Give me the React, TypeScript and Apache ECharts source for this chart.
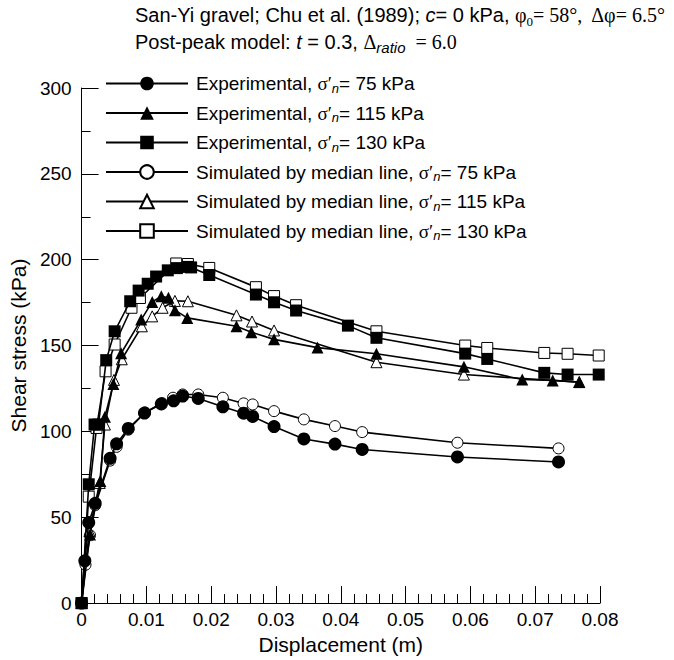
import React, { useEffect, useRef } from "react";
import * as echarts from "echarts";

const SANS = "'Liberation Sans', Arial, sans-serif";
const SERIF = "'Liberation Serif', 'Times New Roman', serif";

const xTicks = [0, 0.01, 0.02, 0.03, 0.04, 0.05, 0.06, 0.07, 0.08];
const yTicks = [0, 50, 100, 150, 200, 250, 300];

const seriesNames = [
  "Experimental, 75",
  "Experimental, 115",
  "Experimental, 130",
  "Simulated by median line, 75",
  "Simulated by median line, 115",
  "Simulated by median line, 130",
];

const exp75: [number, number][] = [
  [0, 0], [0.0005, 24.6], [0.0011, 46.9], [0.0021, 58.1], [0.0044, 84.3], [0.0054, 92.8],
  [0.0072, 101.7], [0.0097, 110.7], [0.0123, 116], [0.0142, 117.8], [0.0156, 120.6],
  [0.018, 119.2], [0.0218, 114.3], [0.025, 110.6], [0.0264, 108.7], [0.0297, 102.8],
  [0.0343, 95.6], [0.0391, 92.6], [0.0433, 89.5], [0.058, 85.1], [0.0736, 82.2],
];
const exp115: [number, number][] = [
  [0, 0], [0.0013, 40], [0.0029, 71.1], [0.0036, 108.5], [0.0049, 127.6], [0.0061, 145.5],
  [0.0092, 165.1], [0.0109, 175.4], [0.0123, 178.7], [0.0134, 177.8], [0.0144, 170.6],
  [0.0163, 166.1], [0.0239, 161.2], [0.0262, 157.8], [0.0297, 153.6], [0.0364, 148.8],
  [0.0455, 145.2], [0.059, 137.6], [0.068, 130.2], [0.0727, 129.7], [0.0768, 128.7],
];
const exp130: [number, number][] = [
  [0, 0], [0.0011, 69.2], [0.002, 104], [0.0026, 104], [0.0038, 141.5], [0.0051, 158.3],
  [0.0075, 175.8], [0.0088, 182], [0.0102, 186], [0.0115, 190.2], [0.0133, 193.8],
  [0.0147, 195.1], [0.0164, 195.8], [0.0169, 195.5], [0.0197, 191.1], [0.0269, 179.7],
  [0.0297, 175.2], [0.0331, 170.4], [0.0411, 161.6], [0.0455, 154.5], [0.0592, 145.3],
  [0.0626, 142.2], [0.0714, 134.1], [0.075, 133.1], [0.0798, 133.1],
];
const sim75: [number, number][] = [
  [0, 0], [0.0006, 22.3], [0.0013, 39.5], [0.0021, 57], [0.0044, 83], [0.0054, 91],
  [0.0072, 101], [0.0098, 111], [0.0124, 116.5], [0.0141, 119.6], [0.0156, 121.5],
  [0.018, 121.5], [0.0218, 119.6], [0.025, 116.3], [0.0264, 115.7], [0.0297, 111.8],
  [0.0343, 107], [0.0391, 103.1], [0.0433, 99.6], [0.058, 93.4], [0.0736, 90.1],
];
const sim115: [number, number][] = [
  [0, 0], [0.0012, 42], [0.0028, 70], [0.0036, 104], [0.005, 130], [0.0062, 142],
  [0.0093, 161.2], [0.0109, 167], [0.0125, 172], [0.0144, 176], [0.0164, 175.8],
  [0.0239, 167.6], [0.0263, 164], [0.0297, 158.8], [0.0455, 140.3], [0.059, 133.1],
  [0.0768, 128.7],
];
const sim130: [number, number][] = [
  [0, 0], [0.0011, 62], [0.0023, 102], [0.0037, 135], [0.0051, 150.6], [0.0077, 172],
  [0.009, 177.7], [0.0146, 197.8], [0.0164, 197.5], [0.0197, 195.2], [0.0269, 184],
  [0.0297, 178.8], [0.0331, 173.5], [0.0455, 158.3], [0.0592, 150], [0.0626, 148.6],
  [0.0714, 145.7], [0.075, 145.2], [0.0798, 144.2],
];

const seriesData = [exp75, exp115, exp130, sim75, sim115, sim130];
const symbols = ["circle", "triangle", "rect", "circle", "triangle", "rect"];
const filled = [true, true, true, false, false, false];
const symbolSizes = [13, 12, 12, 11, 11, 11];

export default function App() {
  const ref = useRef<HTMLDivElement>(null);
  useEffect(() => {
    if (!ref.current) return;
    const chart = echarts.init(ref.current, null, { renderer: "svg" });

    const legendRich = {
      a: { fontFamily: SANS, fontSize: 19, color: "#000", lineHeight: 22 },
      s: { fontFamily: SERIF, fontSize: 19, color: "#000", lineHeight: 22 },
      n: { fontFamily: SANS, fontSize: 13, fontStyle: "italic", color: "#000", lineHeight: 13, verticalAlign: "bottom" },
    };

    const titleRich = {
      a: { fontFamily: SANS, fontSize: 20, color: "#000", lineHeight: 26 },
      i: { fontFamily: SANS, fontSize: 20, fontStyle: "italic", color: "#000", lineHeight: 26 },
      s: { fontFamily: SERIF, fontSize: 20, color: "#000", lineHeight: 26 },
      ss: { fontFamily: SERIF, fontSize: 13, color: "#000", lineHeight: 13, verticalAlign: "bottom" },
      si: { fontFamily: SANS, fontSize: 15, fontStyle: "italic", color: "#000", lineHeight: 15, verticalAlign: "bottom" },
    };

    const option: any = {
      animation: false,
      backgroundColor: "#fff",
      grid: { left: 80, right: 74, top: 88, bottom: 56, containLabel: false },
      graphic: [
        {
          type: "text",
          left: 135,
          top: 5,
          style: {
            text: "{a|San-Yi gravel; Chu et al. (1989); }{i|c}{a|= 0 kPa, }{s|φ}{ss|0}{s|= 58°,  Δφ= 6.5°}",
            rich: titleRich,
          },
        },
        {
          type: "text",
          left: 135,
          top: 32,
          style: {
            text: "{a|Post-peak model: }{i|t}{a| = 0.3, }{s|Δ}{si|ratio}{s|  = 6.0}",
            rich: titleRich,
          },
        },
      ],
      legend: {
        orient: "vertical",
        left: 105,
        top: 74,
        padding: 0,
        itemWidth: 82,
        itemHeight: 17,
        itemGap: 9,
        data: seriesNames,
        formatter: (name: string) => {
          const idx = name.lastIndexOf(", ");
          const head = name.slice(0, idx + 2);
          const val = name.slice(idx + 2);
          return `{a|${head}}{s|σ′}{n|n}{a|= ${val} kPa}`;
        },
        textStyle: { rich: legendRich, padding: [0, 0, 0, 3] },
      },
      xAxis: {
        type: "value",
        min: 0,
        max: 0.08,
        interval: 0.01,
        name: "Displacement (m)",
        nameLocation: "middle",
        nameGap: 28,
        nameTextStyle: { fontFamily: SANS, fontSize: 21, color: "#000" },
        axisLine: { show: true, onZero: false, lineStyle: { color: "#000", width: 1 } },
        axisTick: { show: true, inside: true, length: 17, lineStyle: { color: "#000", width: 1 } },
        minorTick: { show: true, splitNumber: 5, length: 9, lineStyle: { color: "#000", width: 1 } },
        splitLine: { show: false },
        axisLabel: {
          margin: 7,
          fontFamily: SANS,
          fontSize: 19,
          color: "#000",
          customValues: xTicks,
          formatter: (v: number) => (v === 0 ? "0" : v.toFixed(2)),
        },
      },
      yAxis: {
        type: "value",
        min: 0,
        max: 300,
        interval: 50,
        name: "Shear stress (kPa)",
        nameLocation: "middle",
        nameGap: 41,
        nameTextStyle: { fontFamily: SANS, fontSize: 21, color: "#000" },
        axisLine: { show: true, onZero: false, lineStyle: { color: "#000", width: 1 } },
        axisTick: { show: true, inside: true, length: 17, lineStyle: { color: "#000", width: 1 } },
        minorTick: { show: true, splitNumber: 2, length: 9, lineStyle: { color: "#000", width: 1 } },
        splitLine: { show: false },
        axisLabel: {
          margin: 10,
          fontFamily: SANS,
          fontSize: 19,
          color: "#000",
          formatter: (v: number) => (yTicks.includes(v) ? String(v) : ""),
        },
      },
      series: seriesNames.map((name, i) => ({
        name,
        type: "line",
        data: seriesData[i],
        symbol: symbols[i],
        symbolSize: symbolSizes[i],
        showAllSymbol: true,
        clip: false,
        z: filled[i] ? 3 : 2,
        lineStyle: { color: "#000", width: 1.6 },
        itemStyle: filled[i]
          ? { color: "#000", borderColor: "#000", borderWidth: 0 }
          : { color: "#fff", borderColor: "#000", borderWidth: 1 },
      })),
    };

    chart.setOption(option);
    return () => chart.dispose();
  }, []);

  return (
    <div
      ref={ref}
      style={{ position: "fixed", left: 0, top: 0, width: 674, height: 660, background: "#fff" }}
    />
  );
}
